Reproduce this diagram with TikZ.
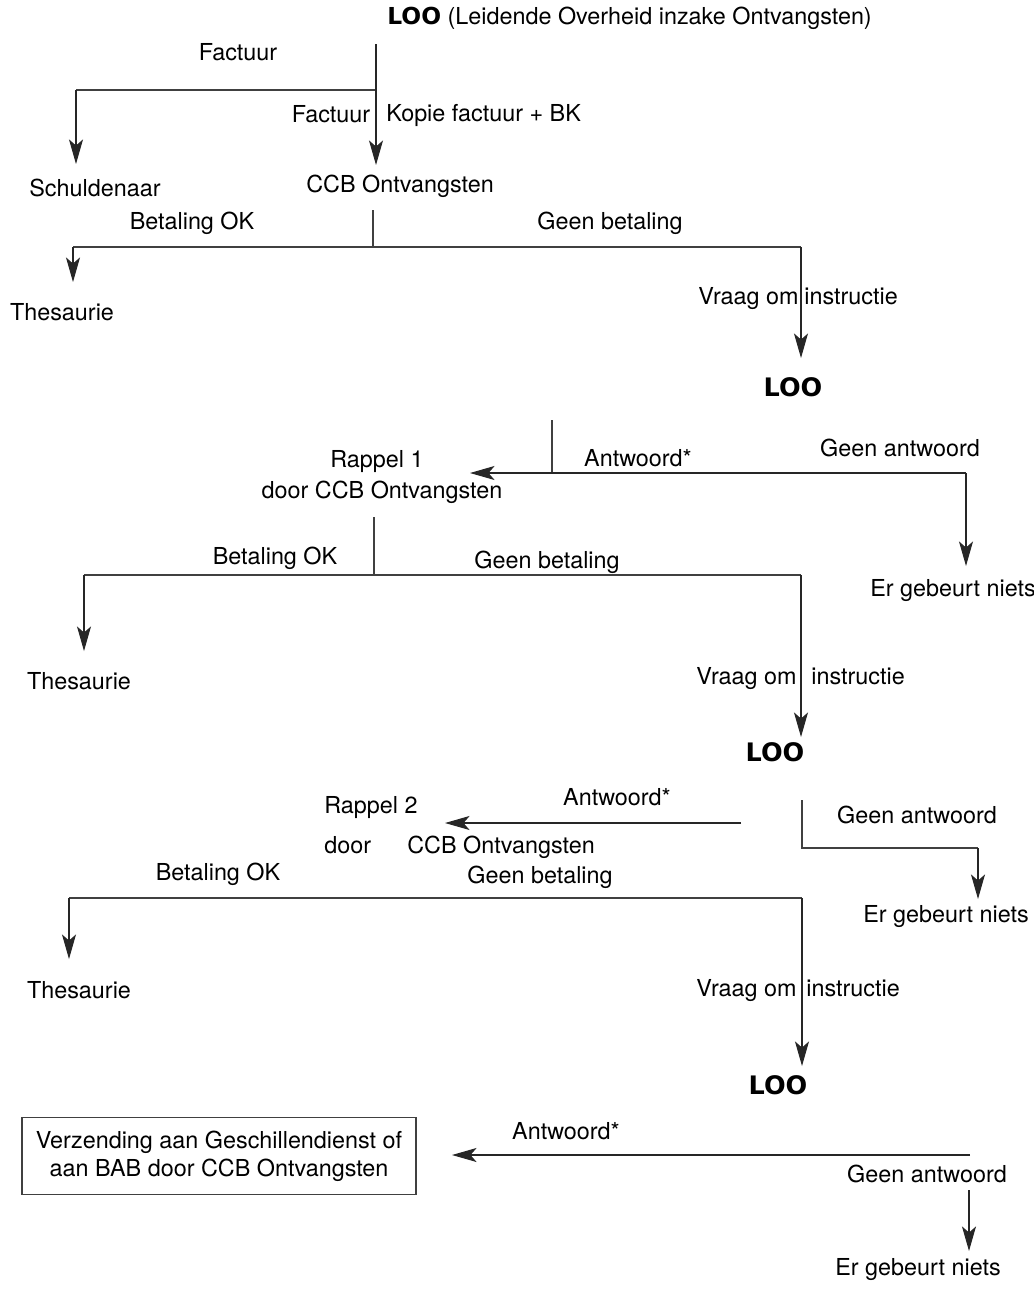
\documentclass[tikz,border=0pt]{standalone}
\usepackage{fontspec}
\setmainfont{TeX Gyre Heros}
\newfontfamily\heavyfont{DejaVu Sans}
\usetikzlibrary{arrows.meta,positioning}

\begin{document}
\begin{tikzpicture}[x=0.02cm,y=-0.02cm,
    lbl/.style={font=\fontsize{13.3}{16}\selectfont, inner sep=0pt},
    loo/.style={font=\fontsize{14.5}{16}\selectfont\heavyfont\bfseries, inner sep=0pt},
    wire/.style={black!75, line width=0.6pt},
    flow/.style={black!85, line width=0.6pt, -{Stealth[length=14pt,width=8pt,inset=3.5pt]}}]
    \useasboundingbox (0,0) rectangle (1034,1292);

    % Start: LOO sends the invoice
    \node[lbl, anchor=west] (top) at (387,18) {{\heavyfont\bfseries LOO} (Leidende Overheid inzake Ontvangsten)};
    \coordinate (s0) at (376,44);
    \coordinate (s1) at (376,90);
    \coordinate (s2) at (76,90);
    \coordinate (e1) at (76,164);
    \coordinate (e2) at (376,165);
    \draw[wire] (s1) -- (s2);
    \draw[flow] (s2) -- (e1);
    \draw[flow] (s0) -- (e2);
    \node[lbl] (fact1) at (238,52) {Factuur};
    \node[lbl] (fact2) at (331,114) {Factuur};
    \node[lbl, anchor=west] (kopie) at (386,115) {Kopie factuur + BK};
    \node[lbl] (schuld) at (95,188) {Schuldenaar};
    \node[lbl, anchor=west] (ccb) at (306,186) {CCB Ontvangsten};

    % First check of payment
    \coordinate (a0) at (373,210);
    \coordinate (a1) at (373,247);
    \coordinate (aL) at (73,247);
    \coordinate (aR) at (801,247);
    \coordinate (aLe) at (73,282);
    \coordinate (aRe) at (801,358);
    \draw[wire] (a0) -- (a1);
    \draw[wire] (aL) -- (aR);
    \draw[flow] (aL) -- (aLe);
    \draw[flow] (aR) -- (aRe);
    \node[lbl] (ok1) at (192,223) {Betaling OK};
    \node[lbl] (geen1) at (610,223) {Geen betaling};
    \node[lbl] (thes1) at (62,312) {Thesaurie};
    \node[lbl, anchor=base east] (vraag1a) at (799,304) {Vraag om};
    \node[lbl, anchor=base west] (vraag1b) at (804,304) {instructie};
    \node[loo] (loo1) at (793,387) {LOO};

    % Answer from LOO, first reminder
    \coordinate (b0) at (552,420);
    \coordinate (b1) at (552,473);
    \coordinate (bR) at (966,473);
    \coordinate (bL) at (470,473);
    \coordinate (bRe) at (966,566);
    \draw[wire] (b0) -- (b1);
    \draw[flow] (bR) -- (bL);
    \draw[flow] (bR) -- (bRe);
    \node[lbl] (antw1) at (638,458) {Antwoord*};
    \node[lbl] (geenan1) at (900,448) {Geen antwoord};
    \node[lbl] (niets1) at (953,591) {Er gebeurt niets};
    \node[lbl] (rap1) at (377,462) {Rappel 1};
    \node[lbl] (rap1b) at (382,492) {door CCB Ontvangsten};

    % Second check of payment
    \coordinate (c0) at (374,517);
    \coordinate (c1) at (374,575);
    \coordinate (cL) at (84,575);
    \coordinate (cR) at (801,575);
    \coordinate (cLe) at (84,651);
    \coordinate (cRe) at (801,737);
    \draw[wire] (c0) -- (c1);
    \draw[wire] (cL) -- (cR);
    \draw[flow] (cL) -- (cLe);
    \draw[flow] (cR) -- (cRe);
    \node[lbl] (ok2) at (275,558) {Betaling OK};
    \node[lbl] (geen2) at (547,562) {Geen betaling};
    \node[lbl] (thes2) at (79,681) {Thesaurie};
    \node[lbl, anchor=base east] (vraag2a) at (797,684) {Vraag om};
    \node[lbl, anchor=base west] (vraag2b) at (811,684) {instructie};
    \node[loo] (loo2) at (775,752) {LOO};

    % Answer from LOO, second reminder
    \coordinate (d0) at (741,823);
    \coordinate (dL) at (445,823);
    \coordinate (d1) at (802,800);
    \coordinate (d2) at (802,848);
    \coordinate (d3) at (978,848);
    \coordinate (d3e) at (978,899);
    \draw[flow] (d0) -- (dL);
    \draw[wire] (d1) -- (d2) -- (d3);
    \draw[flow] (d3) -- (d3e);
    \node[lbl] (antw2) at (617,797) {Antwoord*};
    \node[lbl] (geenan2) at (917,815) {Geen antwoord};
    \node[lbl] (niets2) at (946,917) {Er gebeurt niets};
    \node[lbl, anchor=base west] (rap2) at (324,813) {Rappel 2};
    \node[lbl, anchor=base west] (door2) at (324,853) {door};
    \node[lbl, anchor=base west] (ccb2) at (407,853) {CCB Ontvangsten};

    % Third check of payment
    \coordinate (eL) at (69,898);
    \coordinate (eR) at (802,898);
    \coordinate (eLe) at (69,959);
    \coordinate (eRe) at (802,1066);
    \draw[wire] (eL) -- (eR);
    \draw[flow] (eL) -- (eLe);
    \draw[flow] (eR) -- (eRe);
    \node[lbl] (ok3) at (218,874) {Betaling OK};
    \node[lbl] (geen3) at (540,877) {Geen betaling};
    \node[lbl] (thes3) at (79,990) {Thesaurie};
    \node[lbl, anchor=base east] (vraag3a) at (797,996) {Vraag om};
    \node[lbl, anchor=base west] (vraag3b) at (806,996) {instructie};
    \node[loo] (loo3) at (778,1085) {LOO};

    % Final answer
    \node[lbl, draw=black!75, line width=0.6pt, align=center, minimum width=394*0.02cm, minimum height=77*0.02cm] (bab) at (219,1156)
        {Verzending aan Geschillendienst of\\aan BAB door CCB Ontvangsten};
    \coordinate (f0) at (970,1155);
    \coordinate (fL) at (452,1155);
    \coordinate (f1) at (969,1190);
    \coordinate (f1e) at (969,1251);
    \draw[flow] (f0) -- (fL);
    \draw[flow] (f1) -- (f1e);
    \node[lbl] (antw3) at (566,1131) {Antwoord*};
    \node[lbl] (geenan3) at (927,1174) {Geen antwoord};
    \node[lbl] (niets3) at (918,1270) {Er gebeurt niets};
\end{tikzpicture}
\end{document}
